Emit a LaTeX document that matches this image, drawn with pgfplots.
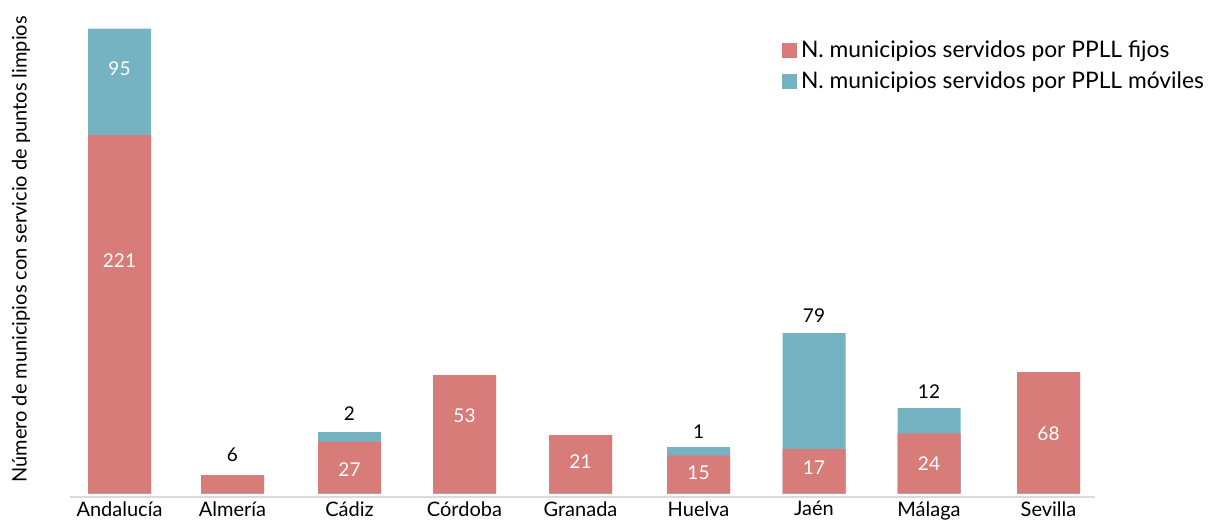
\documentclass[border=0pt]{standalone}
\usepackage{pgfplots}
\pgfplotsset{compat=1.18}
\usepackage{fontspec}
\setmainfont{Lato}
\definecolor{fijo}{HTML}{D87C7A}
\definecolor{movil}{HTML}{75B3C2}
\definecolor{base}{HTML}{DADADA}
\pgfplotstableread{
x fijo total
119.5 358.5 464.8
232.5 18.5 18.5
349.5 51.8 61.5
464.5 118.5 118.5
580.5 58.5 58.5
698.5 38.2 46.5
814 44.5 160.5
929 60.2 85.5
1048.5 121.5 121.5
}\bars
\pgfplotstableread{
x y lab
119.5 232.5 221
119.5 424.5 95
349.5 23.5 27
464.5 77.8 53
580.5 31.5 21
698.5 20.5 15
814 25.5 17
929 29.5 24
1048.5 60.2 68
}\whitelabels
\pgfplotstableread{
x y lab
232.5 38.5 6
349.5 80.2 2
698.5 61.8 1
814 177.5 79
929 101.8 12
}\blacklabels
\begin{document}
\begin{tikzpicture}
\begin{axis}[
  at={(35pt,14.5pt)}, anchor=south west,
  scale only axis, width=512.5pt, height=238.5pt,
  xmin=70, xmax=1095, ymin=-3.5, ymax=473.5,
  axis x line=bottom, axis y line=none,
  x axis line style={-, draw=base, line width=1pt},
  major tick length=0pt,
  xtick={119.5,232.5,349.5,464.5,580.5,698.5,814,929,1048.5},
  xticklabels={Andalucía,Almería,Cádiz,Córdoba,Granada,Huelva,Jaén,Málaga,Sevilla},
  xticklabel style={font=\fontsize{10pt}{12pt}\selectfont, text=black, anchor=north, inner sep=1pt, yshift=-1pt},
  clip=false,
  legend style={at={(axis description cs:0.6943,0.966)}, anchor=north west, draw=none, fill=none,
    font=\fontsize{11.4pt}{13pt}\selectfont, row sep=1.5pt, inner sep=0pt},
  legend cell align=left,
  legend image code/.code={\fill[#1] (-2.5pt,-3.75pt) rectangle (5pt,3.75pt);},
]
\addlegendimage{fill=fijo, draw=none}
\addlegendentry{N. municipios servidos por PPLL fijos}
\addlegendimage{fill=movil, draw=none}
\addlegendentry{N. municipios servidos por PPLL móviles}
\addplot[ybar, bar width=31.5pt, bar shift=0pt, fill=movil, draw=none, forget plot] table[x=x, y=total] {\bars};
\addplot[ybar, bar width=31.5pt, bar shift=0pt, fill=fijo, draw=none, forget plot] table[x=x, y=fijo] {\bars};
\addplot[draw=none, mark=none, forget plot, nodes near coords, point meta=explicit symbolic,
  every node near coord/.append style={anchor=center, text=white, font=\fontsize{9.5pt}{11pt}\selectfont}]
  table[x=x, y=y, meta=lab] {\whitelabels};
\addplot[draw=none, mark=none, forget plot, nodes near coords, point meta=explicit symbolic,
  every node near coord/.append style={anchor=center, text=black, font=\fontsize{9.5pt}{11pt}\selectfont}]
  table[x=x, y=y, meta=lab] {\blacklabels};
\end{axis}
\node[rotate=90, font=\fontsize{10pt}{12pt}\selectfont] at (10.5pt,138.25pt) {Número de municipios con servicio de puntos limpios};
\pgfresetboundingbox
\path[use as bounding box] (0,0) rectangle (604.5pt,263pt);
\end{tikzpicture}
\end{document}
